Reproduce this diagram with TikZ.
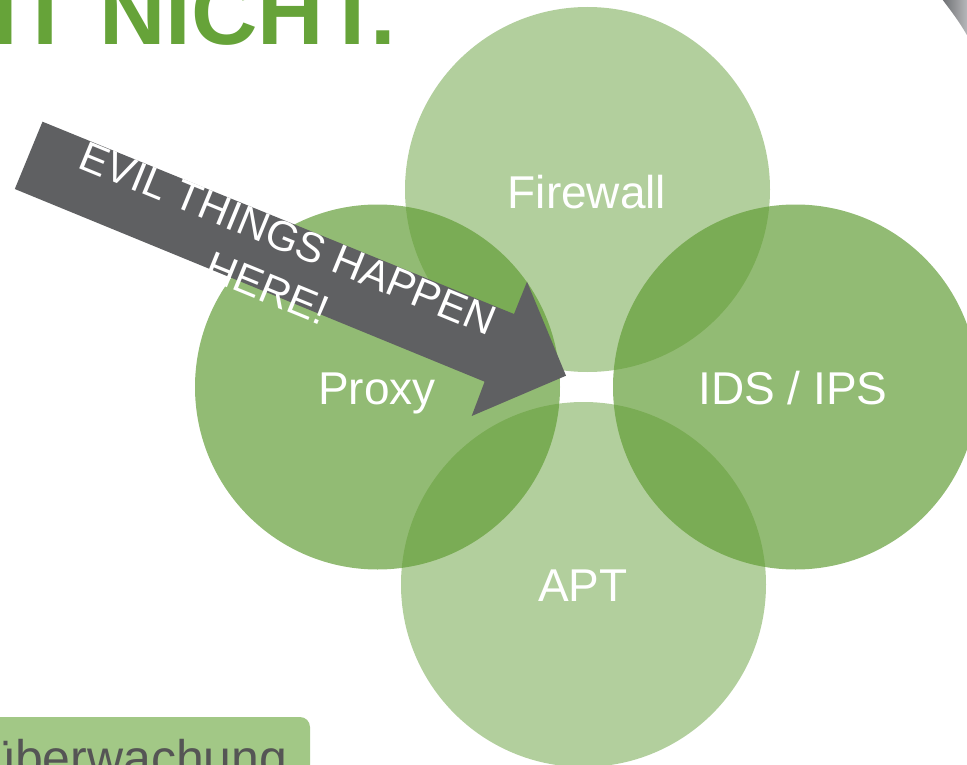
\documentclass[tikz,border=0pt]{standalone}
\usepackage{fontspec}
\setmainfont{Liberation Sans}
\definecolor{vgreen}{RGB}{95,155,50}
\definecolor{titlegreen}{RGB}{102,163,57}
\definecolor{arrowgray}{RGB}{95,96,98}
\definecolor{boxgreen}{RGB}{162,200,134}
\definecolor{boxtext}{RGB}{85,85,85}
\definecolor{cornergray}{RGB}{128,130,134}
\begin{document}
\begin{tikzpicture}[x=1pt,y=-1pt,
  venn/.style={circle, minimum size=365pt, inner sep=0pt, draw=none, fill=vgreen},
  lightc/.style={venn, fill opacity=0.48},
  medc/.style={venn, fill opacity=0.68},
  lbl/.style={anchor=base, inner sep=0pt, text=white, font=\fontsize{46}{55}\selectfont}]
\useasboundingbox (0,0) rectangle (967,765);
\clip (0,0) rectangle (967,765);
% title (cut off)
\node[anchor=base west, inner sep=0pt, text=titlegreen, font=\fontsize{92}{92}\selectfont\bfseries] (title) at (-8,45) {IT NICHT.};
% grey corner shape
\shade[left color=cornergray!85!black, right color=cornergray!55] (942,-1) .. controls (951,11) and (959,21) .. (968,37) -- (968,-1) -- cycle;
% bottom box
\fill[boxgreen, rounded corners=10pt] (-20,717) rectangle (310,800);
\node[anchor=base west, inner sep=0pt, text=boxtext, font=\fontsize{50}{50}\selectfont] (ub) at (-13,775) {überwachung};
% circles
\node[lightc] (fw) at (587.5,189.5) {};
\node[lightc] (apt) at (583.5,584.5) {};
\node[medc] (px) at (377.5,387) {};
\node[medc] (ids) at (795.5,387) {};
% arrow
\fill[arrowgray] (42.5,121.7) -- (514,314) -- (527,281.7) -- (566,375.7) -- (471.7,416) -- (484.6,381.7) -- (14.8,189) -- cycle;
\node[inner sep=0pt, text=white, rotate=-22.3, align=center, font=\fontsize{42}{54}\selectfont] (evil) at (278,263) {EVIL THINGS HAPPEN\\HERE!};
% labels
\node[lbl] (fwl) at (587,208) {Firewall};
\node[lbl] (pxl) at (377,404) {Proxy};
\node[lbl] (idsl) at (793,404) {IDS / IPS};
\node[lbl] (aptl) at (583,601) {APT};
\end{tikzpicture}
\end{document}
